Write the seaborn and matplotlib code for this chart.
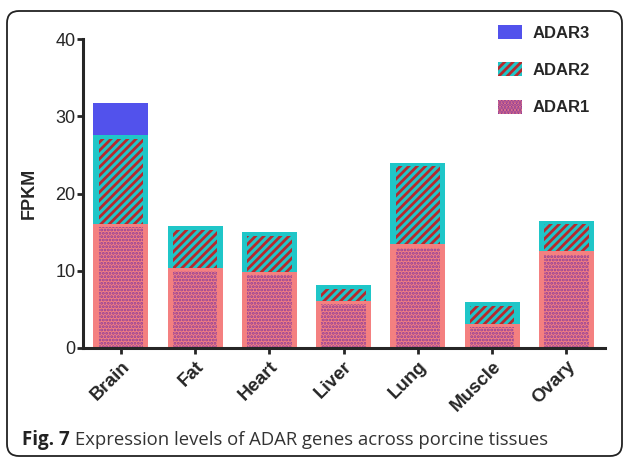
import matplotlib
matplotlib.use("Agg")
import pandas as pd
import seaborn as sns
import matplotlib.pyplot as plt
from matplotlib.patches import FancyBboxPatch, Patch

tissues = ["Brain", "Fat", "Heart", "Liver", "Lung", "Muscle", "Ovary"]
adar1 = [16.0, 10.4, 9.9, 6.1, 13.4, 3.1, 12.5]
adar2 = [11.6, 5.4, 5.1, 2.0, 10.6, 2.9, 4.0]
adar3 = [4.1, 0.0, 0.0, 0.0, 0.0, 0.0, 0.0]
yticks = [0, 10, 20, 30, 40]

blue = "#5252ec"
teal = "#1fc6c8"
red = "#b8282c"
salmon = "#f48080"
purple = "#8a3c9c"

df = pd.DataFrame({"tissue": tissues, "ADAR1": adar1, "ADAR2": adar2, "ADAR3": adar3})
df["cum2"] = df["ADAR1"] + df["ADAR2"]
df["cum3"] = df["cum2"] + df["ADAR3"]
df["hatch2"] = df["cum2"] - 0.5
df["hatch1"] = df["ADAR1"] - 0.4

sns.set_style("ticks")
plt.rcParams["font.family"] = ["Liberation Sans", "DejaVu Sans"]
plt.rcParams["hatch.linewidth"] = 2.0

fig = plt.figure(figsize=(6.26, 4.57), dpi=100)
ax = fig.add_axes([83 / 626, 1 - 348 / 457, (605 - 83) / 626, (348 - 39) / 457])

bw = 0.74
iw = 0.60

# stacked bars: draw cumulative totals back to front
sns.barplot(data=df, x="tissue", y="cum3", color=blue, saturation=1, width=bw,
            errorbar=None, linewidth=0, ax=ax)
sns.barplot(data=df, x="tissue", y="cum2", color=teal, saturation=1, width=bw,
            errorbar=None, linewidth=0, ax=ax)
n0 = len(ax.patches)
sns.barplot(data=df, x="tissue", y="hatch2", color=teal, saturation=1, width=iw,
            errorbar=None, linewidth=0, ax=ax)
for p in ax.patches[n0:]:
    p.set_facecolor("none")
    p.set_edgecolor(red)
    p.set_hatch("////")
    p.set_linewidth(0)

sns.barplot(data=df, x="tissue", y="ADAR1", color=salmon, saturation=1, width=bw,
            errorbar=None, linewidth=0, ax=ax)
n0 = len(ax.patches)
sns.barplot(data=df, x="tissue", y="hatch1", color=salmon, saturation=1, width=iw,
            errorbar=None, linewidth=0, ax=ax)
for p in ax.patches[n0:]:
    p.set_facecolor("none")
    p.set_edgecolor(purple)
    p.set_hatch(".....")
    p.set_linewidth(0)
    if hasattr(p, "set_hatch_linewidth"):
        p.set_hatch_linewidth(1.4)

ax.set_xlim(-0.51, 6.52)
ax.set_ylim(0, 40)
ax.set_yticks(yticks)
ax.set_xlabel("")
ax.set_ylabel("FPKM", fontsize=13, fontweight="bold")
ax.yaxis.set_label_coords(-0.086, 0.5)

sns.despine(ax=ax)
for s in ["left", "bottom"]:
    ax.spines[s].set_linewidth(2.2)
ax.tick_params(axis="y", length=4, width=2, labelsize=13, pad=1.5)
ax.tick_params(axis="x", length=4, width=2, labelsize=13.5, pad=3)
for lab in ax.get_xticklabels():
    lab.set_rotation(45)
    lab.set_ha("right")
    lab.set_rotation_mode("anchor")
    lab.set_fontweight("bold")

handles = [
    Patch(facecolor=blue, edgecolor=blue, linewidth=0, label="ADAR3"),
    Patch(facecolor=teal, edgecolor=red, hatch="////", linewidth=0, label="ADAR2"),
    Patch(facecolor=salmon, edgecolor=purple, hatch=".....", linewidth=0, label="ADAR1"),
]
leg = fig.legend(handles=handles, loc="upper left", bbox_to_anchor=(498 / 626, 1 - 25 / 457),
                 frameon=False, borderpad=0, borderaxespad=0, handlelength=1.45,
                 handleheight=0.9, handletextpad=0.6, labelspacing=1.3,
                 prop={"size": 12, "weight": "bold"})

# panel border
box = FancyBboxPatch((0.07, 0.01), 6.15, 4.45, boxstyle="round,pad=0,rounding_size=0.12",
                     transform=fig.dpi_scale_trans, facecolor="none", edgecolor="#222222",
                     linewidth=1.3, clip_on=False)
fig.patches.append(box)

# caption
fig.canvas.draw()
t1 = fig.text(22 / 626, 1 - 445 / 457, "Fig. 7", fontsize=13.5, fontweight="bold",
              family=["Open Sans", "DejaVu Sans"], va="baseline", color="#222222")
r = fig.canvas.get_renderer()
bb = t1.get_window_extent(renderer=r)
fig.text((bb.x1 + 5) / 626, 1 - 445 / 457, "Expression levels of ADAR genes across porcine tissues",
         fontsize=13.3, family=["Open Sans", "DejaVu Sans"], va="baseline", color="#333333")

fig.savefig("out.png", dpi=100)
